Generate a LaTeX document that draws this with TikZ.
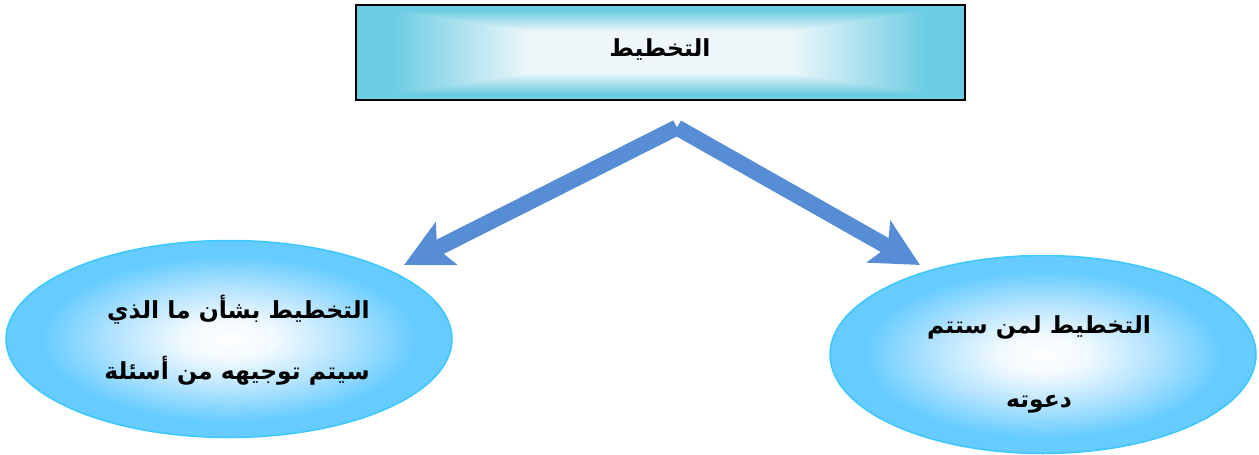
\documentclass[tikz,border=0pt]{standalone}
\usepackage{fontspec}
\usetikzlibrary{shapes.geometric,arrows.meta}
\TeXXeTstate=1
\newfontfamily\arabicfont[Script=Arabic]{DejaVu Sans}
\pgfdeclarefunctionalshading{rectglow}{\pgfpoint{-50bp}{-50bp}}{\pgfpoint{50bp}{50bp}}{}{
  abs 25 div exch abs 25 div
  2 copy sub abs 3 1 roll add add 2 div
  0.42 sub 0.46 div
  dup abs add 2 div
  dup 1 sub abs neg add 1 add 2 div
  dup -0.52 mul 0.94 add exch
  dup -0.17 mul 0.97 add exch
  -0.09 mul 0.98 add
}
\pgfdeclareradialshading{ovalglow}{\pgfpoint{0bp}{0bp}}{
  rgb(0bp)=(1,1,1);
  rgb(5bp)=(0.95,0.98,1);
  rgb(13bp)=(0.70,0.89,1);
  rgb(21bp)=(0.40,0.80,1);
  rgb(50bp)=(0.40,0.80,1)
}
\definecolor{arrowblue}{RGB}{86,141,213}
\definecolor{ovalline}{RGB}{60,200,255}
\tikzset{
  x=1pt,y=-1pt,
  titlebox/.style={rectangle,draw=black,line width=2pt,shading=rectglow,minimum width=609pt,minimum height=95pt,inner sep=0pt,font=\arabicfont\bfseries\fontsize{23.5}{28}\selectfont},
  oval/.style={ellipse,draw=ovalline,line width=1.5pt,shading=ovalglow,inner sep=0pt,font=\arabicfont\bfseries},
  bigarrow/.style={draw=arrowblue,line width=16pt,-{Stealth[length=47pt,width=47pt,inset=10pt,fill=arrowblue]}}
}
\begin{document}
\begin{tikzpicture}
  \useasboundingbox (0,0) rectangle (1259,455);
  \node[titlebox] (title) at (660,52) {\smash{\raisebox{-4pt}{\beginR التخطيط\endR}}};
  \node[oval,minimum width=446pt,minimum height=197pt] (left) at (229,339)
    {\hspace*{16pt}\fontsize{23.5}{61}\selectfont\smash{\raisebox{-4pt}{\begin{tabular}{@{}r@{}}\beginR التخطيط بشأن ما الذي\endR\\\beginR سيتم توجيهه من أسئلة\endR\end{tabular}}}};
  \node[oval,minimum width=426pt,minimum height=198pt] (right) at (1043,354.5)
    {\hspace*{-8pt}\fontsize{23.5}{74}\selectfont\smash{\raisebox{-7pt}{\begin{tabular}{@{}c@{}}\beginR التخطيط لمن ستتم\endR\\\beginR دعوته\endR\end{tabular}}}};
  \coordinate (apex) at (677,127.5);
  \coordinate (tipL) at (404,265);
  \coordinate (tipR) at (920,265);
  \draw[bigarrow] (apex) -- (tipL);
  \draw[bigarrow] (apex) -- (tipR);
\end{tikzpicture}
\end{document}
